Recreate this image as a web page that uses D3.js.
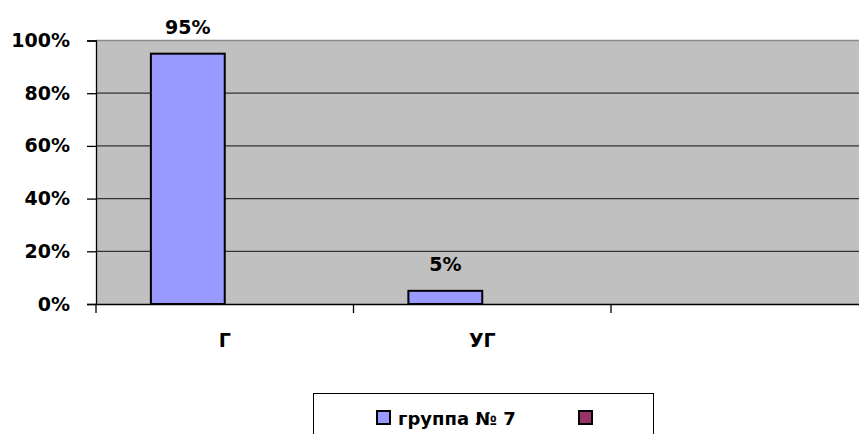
<!DOCTYPE html>
<html>
<head>
<meta charset="utf-8">
<script src="https://cdn.jsdelivr.net/npm/d3@7"></script>
<style>
  body { margin: 0; background: #fff; }
  text { font-family: "DejaVu Sans", sans-serif; font-weight: bold; fill: #000; }
</style>
</head>
<body>
<div class="canvas"></div>
<script>
const categories = ["Г", "УГ", ""]
const seriesNames = ["группа № 7", ""]
const group7 = [0.95, 0.05, null]
const yTicks = [0, 0.2, 0.4, 0.6, 0.8, 1]

const width = 859
const height = 434
const margin = {top: 40.5, left: 96, bottom: 130}
const plotW = 772.5
const plotH = height - margin.top - margin.bottom
const font = "DejaVu Sans, sans-serif"

const svg = d3.select(".canvas")
    .append("svg")
    .attr("width", width)
    .attr("height", height)

const x = d3.scaleBand()
    .domain(categories)
    .range([margin.left, margin.left + plotW])

const xSeries = d3.scaleBand()
    .domain(seriesNames.map((d, i) => i))
    .range([0, x.bandwidth()])
    .paddingInner(0)
    .paddingOuter(0.743)

const y = d3.scaleLinear()
    .domain([0, 1])
    .range([margin.top + plotH, margin.top])

// plot area
svg.append("rect")
    .attr("x", margin.left)
    .attr("y", margin.top)
    .attr("width", plotW)
    .attr("height", plotH)
    .attr("fill", "#c0c0c0")

svg.append("line")
    .attr("x1", margin.left).attr("x2", margin.left + plotW)
    .attr("y1", margin.top).attr("y2", margin.top)
    .attr("stroke", "#8c8c8c")
    .attr("stroke-width", 1.5)

svg.append("g")
    .selectAll("line")
    .data(yTicks.slice(1, -1))
    .enter()
    .append("line")
    .attr("x1", margin.left).attr("x2", margin.left + plotW)
    .attr("y1", d => y(d)).attr("y2", d => y(d))
    .attr("stroke", "#333")
    .attr("stroke-width", 1.3)

// bars
const data = categories.map((c, i) => ({cat: c, value: group7[i]})).filter(d => d.value != null)

svg.append("g")
    .selectAll("rect")
    .data(data)
    .enter()
    .append("rect")
    .attr("x", d => x(d.cat) + xSeries(0))
    .attr("y", d => y(d.value))
    .attr("width", xSeries.bandwidth())
    .attr("height", d => y(0) - y(d.value))
    .attr("fill", "#9999ff")
    .attr("stroke", "#000")
    .attr("stroke-width", 2)

svg.append("g")
    .selectAll("text")
    .data(data)
    .enter()
    .append("text")
    .attr("x", d => x(d.cat) + xSeries(0) + xSeries.bandwidth() / 2)
    .attr("y", d => y(d.value) - 20)
    .attr("text-anchor", "middle")
    .attr("font-size", 19)
    .text(d => Math.round(d.value * 100) + "%")

// y axis
const yAxis = svg.append("g")
    .attr("transform", `translate(${margin.left},0)`)
    .call(d3.axisLeft(y).tickValues(yTicks).tickFormat(d3.format(".0%")).tickSize(9).tickPadding(17))
yAxis.select(".domain").attr("stroke", "#000").attr("stroke-width", 1.3)
yAxis.selectAll(".tick line").attr("stroke", "#000").attr("stroke-width", 1.3)
yAxis.selectAll("text").attr("font-size", 19).attr("font-family", font).attr("font-weight", "bold")

// x axis
const xAxis = svg.append("g")
    .attr("transform", `translate(0,${margin.top + plotH})`)
    .call(d3.axisBottom(x).tickSize(0).tickPadding(30))
xAxis.select(".domain").attr("stroke", "#000").attr("stroke-width", 1.3)
xAxis.selectAll("text").attr("font-size", 19).attr("font-family", font).attr("font-weight", "bold")

svg.append("g")
    .selectAll("line")
    .data(categories)
    .enter()
    .append("line")
    .attr("x1", d => x(d)).attr("x2", d => x(d))
    .attr("y1", margin.top + plotH).attr("y2", margin.top + plotH + 9)
    .attr("stroke", "#000")
    .attr("stroke-width", 1.3)

// legend
svg.append("rect")
    .attr("x", 313.5).attr("y", 393.5)
    .attr("width", 340).attr("height", 60)
    .attr("fill", "#fff")
    .attr("stroke", "#000")
    .attr("stroke-width", 1)

const legendColors = ["#9999ff", "#993366"]
const legendX = [377, 579]
const items = svg.append("g").selectAll("g")
    .data(seriesNames)
    .enter()
    .append("g")
    .attr("transform", (d, i) => `translate(${legendX[i]},411)`)
items.append("rect")
    .attr("width", 13).attr("height", 13)
    .attr("fill", (d, i) => legendColors[i])
    .attr("stroke", "#000")
    .attr("stroke-width", 2)
items.append("text")
    .attr("x", 21)
    .attr("y", 13.5)
    .attr("font-size", 18)
    .text(d => d)
</script>
</body>
</html>
